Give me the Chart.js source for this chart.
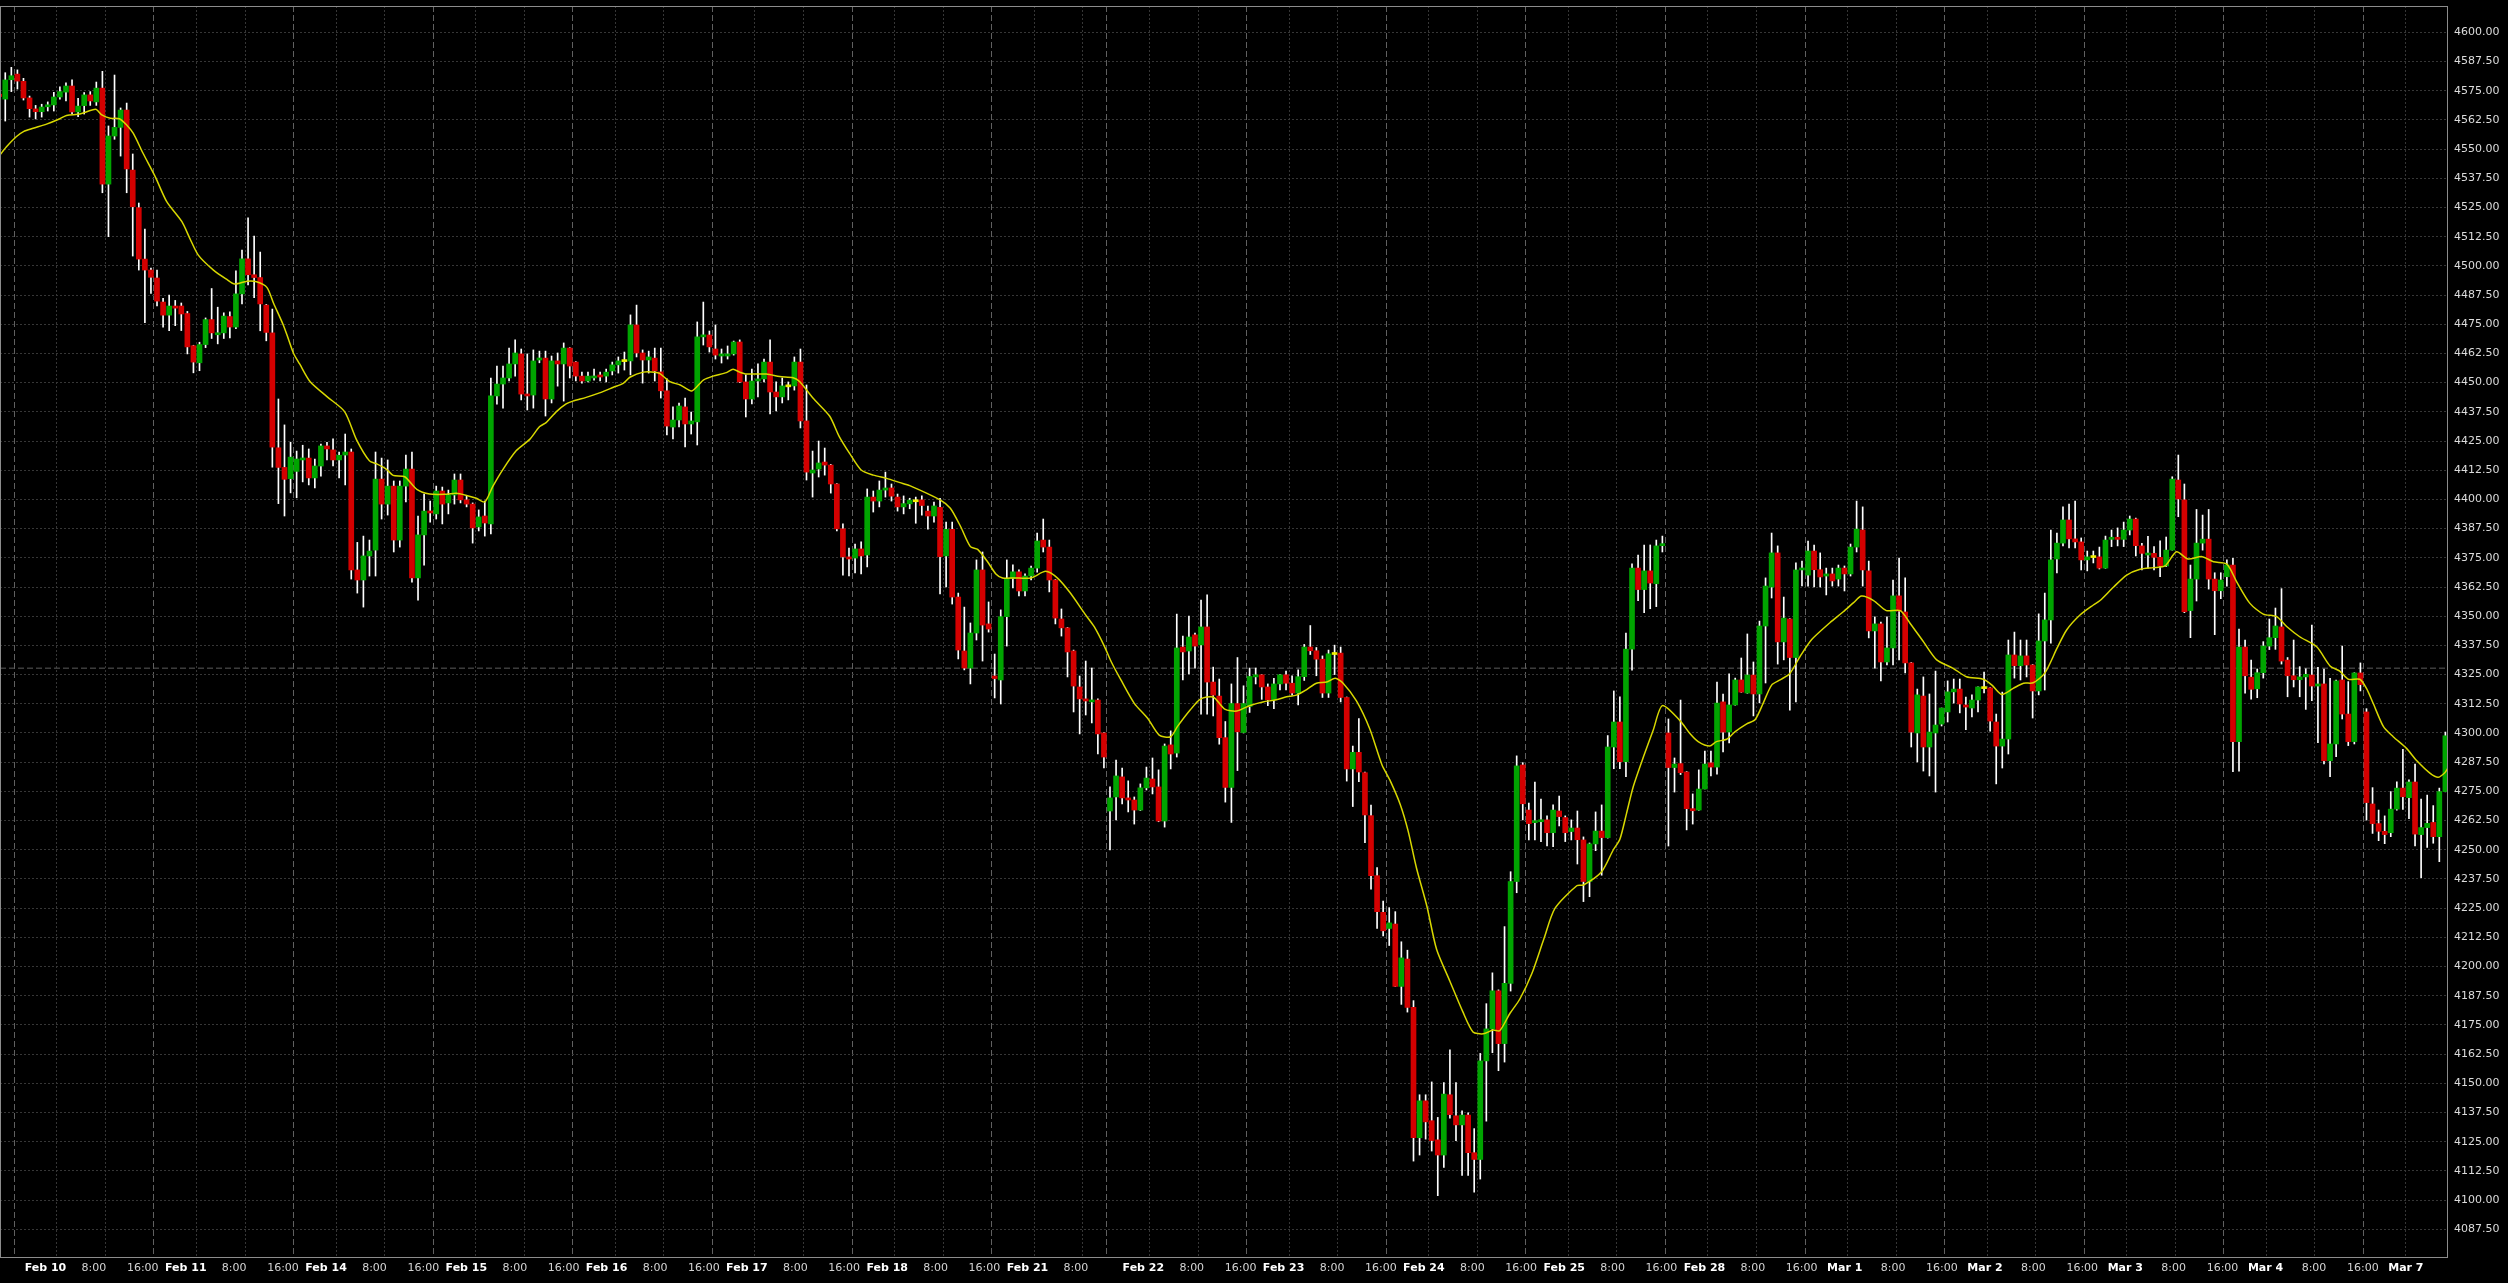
<!DOCTYPE html>
<html>
<head>
<meta charset="utf-8">
<title>Hourly candles Feb 10 - Mar 7</title>
<script src="https://cdn.jsdelivr.net/npm/chart.js@4.4.1/dist/chart.umd.min.js"></script>
<style>
	html, body { margin: 0; padding: 0; background: #000; }
	#wrap { width: 2508px; height: 1283px; }
</style>
</head>
<body>
<div id="wrap"><canvas id="chart" width="2508" height="1283"></canvas></div>
<script>
// hourly bars, index 0 is the bar cut off at the left edge
const opens = [
	4573.5, 4571.4, 4579.7, 4582.1, 4579.0, 4571.9, 4567.2, 4566.0, 4568.1, 4568.9,
	4572.3, 4574.4, 4577.0, 4565.9, 4568.6, 4573.2, 4570.2, 4576.1, 4535.0, 4555.6,
	4559.3, 4566.7, 4541.0, 4524.9, 4502.9, 4498.2, 4494.8, 4484.5, 4478.9, 4482.8,
	4482.8, 4479.6, 4465.8, 4458.5, 4466.3, 4477.0, 4470.5, 4471.3, 4478.3, 4473.8,
	4488.0, 4503.0, 4496.2, 4495.0, 4483.2, 4471.3, 4422.1, 4413.7, 4408.9, 4412.0,
	4416.9, 4417.7, 4409.2, 4414.3, 4422.9, 4421.2, 4416.9, 4419.0, 4420.3, 4369.8,
	4365.5, 4375.8, 4378.3, 4408.7, 4398.0, 4405.7, 4382.6, 4405.7, 4413.0, 4366.4,
	4384.8, 4395.0, 4393.8, 4403.6, 4398.5, 4401.9, 4408.3, 4399.8, 4398.0, 4388.2,
	4392.9, 4389.5, 4444.3, 4449.4, 4452.0, 4458.0, 4462.3, 4445.1, 4444.7, 4459.7,
	4460.5, 4443.0, 4459.3, 4458.0, 4464.8, 4458.8, 4452.8, 4450.7, 4452.0, 4453.3,
	4452.8, 4455.0, 4457.6, 4459.0, 4459.3, 4474.7, 4462.7, 4459.7, 4460.5, 4454.6,
	4446.5, 4431.0, 4434.0, 4439.6, 4432.3, 4433.2, 4469.6, 4470.4, 4464.4, 4461.4,
	4461.4, 4462.3, 4467.4, 4450.3, 4443.0, 4450.7, 4451.6, 4458.8, 4446.0, 4443.9,
	4448.2, 4448.6, 4458.8, 4433.6, 4411.3, 4413.0, 4416.0, 4414.7, 4406.6, 4387.4,
	4375.4, 4374.9, 4378.8, 4376.2, 4401.0, 4399.3, 4404.0, 4404.9, 4401.0, 4396.8,
	4398.1, 4399.0, 4399.8, 4395.0, 4392.9, 4396.6, 4375.8, 4387.2, 4358.2, 4335.1,
	4327.8, 4342.8, 4369.8, 4346.7, 4324.4, 4322.7, 4349.8, 4366.2, 4369.0, 4360.8,
	4367.2, 4370.6, 4382.6, 4379.6, 4365.5, 4348.8, 4345.0, 4335.1, 4319.7, 4314.6,
	4313.3, 4314.1, 4300.0, 4266.6, 4272.6, 4281.2, 4272.2, 4271.3, 4267.0, 4276.5,
	4280.3, 4276.9, 4262.3, 4294.9, 4291.4, 4336.8, 4335.1, 4342.0, 4337.7, 4345.4,
	4321.8, 4315.8, 4298.0, 4276.7, 4312.6, 4300.2, 4311.3, 4324.0, 4324.9, 4319.7,
	4314.2, 4321.0, 4324.9, 4321.3, 4317.1, 4324.1, 4336.8, 4335.2, 4331.6, 4317.1,
	4333.6, 4334.2, 4315.2, 4284.6, 4291.7, 4283.0, 4264.6, 4238.9, 4223.2, 4216.3,
	4218.2, 4191.5, 4203.2, 4182.5, 4126.7, 4142.5, 4134.0, 4125.8, 4119.3, 4145.1,
	4136.1, 4132.2, 4136.4, 4120.3, 4117.4, 4159.6, 4173.3, 4189.6, 4167.0, 4192.8,
	4236.4, 4286.3, 4267.0, 4261.6, 4262.0, 4262.8, 4257.3, 4266.6, 4263.8, 4257.8,
	4259.3, 4254.2, 4236.4, 4252.5, 4258.0, 4255.2, 4294.0, 4304.7, 4287.7, 4335.9,
	4370.6, 4361.4, 4369.4, 4363.9, 4380.2, 4300.0, 4285.2, 4286.9, 4283.3, 4267.6,
	4267.0, 4276.0, 4287.2, 4285.4, 4313.3, 4300.4, 4312.0, 4322.7, 4317.1, 4324.8,
	4316.7, 4345.8, 4362.5, 4377.1, 4339.0, 4348.8, 4332.3, 4369.8, 4367.6, 4377.9,
	4369.9, 4367.2, 4368.1, 4365.9, 4370.6, 4368.1, 4379.6, 4386.9, 4369.4, 4343.7,
	4346.7, 4330.4, 4336.4, 4358.7, 4351.8, 4330.0, 4300.0, 4315.8, 4294.0, 4300.0,
	4303.8, 4309.0, 4317.6, 4318.8, 4312.0, 4310.7, 4314.1, 4319.0, 4319.3, 4304.7,
	4294.4, 4297.4, 4333.4, 4328.8, 4333.0, 4329.1, 4318.0, 4339.4, 4348.4, 4374.5,
	4381.3, 4391.2, 4383.1, 4381.8, 4374.1, 4375.1, 4375.4, 4370.6, 4382.9, 4383.8,
	4382.9, 4386.9, 4391.6, 4380.1, 4376.2, 4376.9, 4375.2, 4371.5, 4378.3, 4408.3,
	4399.8, 4352.4, 4365.9, 4381.3, 4383.0, 4365.9, 4360.9, 4366.9, 4371.9, 4296.3,
	4336.8, 4323.9, 4318.9, 4325.8, 4337.2, 4340.8, 4345.4, 4331.2, 4324.5, 4322.8,
	4324.0, 4324.8, 4320.1, 4321.0, 4288.1, 4295.3, 4322.7, 4308.1, 4296.3, 4325.7,
	4309.0, 4269.6, 4261.2, 4257.9, 4257.3, 4267.4, 4276.4, 4272.3, 4279.0, 4256.5,
	4259.5, 4261.7, 4255.6, 4274.9
];
const highs = [
	4574.5, 4582.7, 4585.0, 4583.9, 4580.3, 4572.7, 4568.7, 4569.2, 4570.2, 4574.3,
	4576.6, 4578.4, 4579.6, 4571.7, 4574.2, 4574.6, 4578.7, 4583.3, 4559.9, 4581.7,
	4567.6, 4569.7, 4547.9, 4526.9, 4515.8, 4499.1, 4498.2, 4486.1, 4487.5, 4485.2,
	4484.1, 4480.5, 4466.0, 4467.3, 4477.7, 4490.3, 4482.3, 4479.9, 4480.3, 4497.9,
	4506.8, 4520.6, 4512.8, 4505.9, 4483.5, 4481.5, 4443.0, 4431.9, 4424.5, 4420.7,
	4423.2, 4421.6, 4417.3, 4423.7, 4424.4, 4425.9, 4420.3, 4428.0, 4421.6, 4381.6,
	4384.3, 4382.6, 4420.3, 4417.7, 4416.9, 4407.9, 4407.9, 4419.0, 4420.3, 4392.9,
	4402.3, 4399.3, 4405.7, 4405.3, 4404.0, 4410.9, 4410.9, 4401.5, 4398.5, 4395.5,
	4399.3, 4452.0, 4457.1, 4457.1, 4464.8, 4468.3, 4464.4, 4462.3, 4464.0, 4463.5,
	4463.5, 4461.4, 4462.7, 4467.0, 4465.0, 4459.0, 4454.5, 4454.5, 4455.8, 4454.5,
	4455.8, 4458.8, 4461.0, 4463.1, 4479.0, 4483.2, 4464.0, 4463.5, 4464.8, 4464.8,
	4451.6, 4439.6, 4441.3, 4443.4, 4437.4, 4476.0, 4484.5, 4472.1, 4474.7, 4464.4,
	4465.7, 4467.8, 4468.3, 4453.3, 4455.8, 4458.0, 4460.1, 4468.3, 4450.3, 4452.0,
	4450.3, 4461.0, 4464.4, 4449.0, 4420.7, 4425.0, 4422.0, 4415.0, 4406.8, 4389.5,
	4379.2, 4380.9, 4381.8, 4404.5, 4403.6, 4407.9, 4411.7, 4406.6, 4402.3, 4401.5,
	4400.5, 4401.0, 4401.5, 4397.2, 4398.9, 4400.5, 4390.3, 4390.3, 4359.9, 4353.9,
	4347.1, 4374.1, 4377.5, 4356.1, 4333.8, 4352.7, 4374.1, 4372.0, 4369.8, 4368.1,
	4371.5, 4385.6, 4391.6, 4382.6, 4365.7, 4353.1, 4345.2, 4335.5, 4324.4, 4330.8,
	4327.8, 4314.6, 4300.2, 4276.9, 4288.4, 4285.0, 4279.5, 4272.6, 4278.2, 4285.4,
	4289.3, 4284.2, 4295.3, 4300.9, 4350.9, 4341.5, 4350.1, 4342.8, 4356.9, 4359.1,
	4328.2, 4323.1, 4304.9, 4321.0, 4332.3, 4320.2, 4327.8, 4327.8, 4325.0, 4321.0,
	4323.4, 4325.0, 4326.5, 4324.5, 4327.0, 4337.9, 4346.0, 4336.6, 4333.0, 4335.5,
	4337.6, 4336.8, 4315.4, 4294.4, 4306.2, 4283.3, 4269.1, 4242.4, 4228.0, 4225.2,
	4223.5, 4210.6, 4207.0, 4185.4, 4145.1, 4145.1, 4150.6, 4135.4, 4150.3, 4164.3,
	4150.3, 4138.2, 4137.4, 4130.6, 4162.8, 4184.1, 4197.3, 4190.0, 4217.1, 4240.6,
	4290.2, 4287.3, 4270.0, 4279.0, 4271.7, 4264.5, 4269.2, 4273.0, 4264.5, 4262.8,
	4266.6, 4255.5, 4252.9, 4266.2, 4269.2, 4298.9, 4318.0, 4315.5, 4342.8, 4372.4,
	4376.2, 4380.5, 4380.5, 4382.6, 4384.3, 4306.0, 4289.3, 4314.1, 4283.5, 4273.9,
	4284.2, 4292.3, 4292.3, 4321.8, 4316.7, 4325.3, 4323.5, 4332.1, 4342.4, 4330.4,
	4347.9, 4366.4, 4385.6, 4380.1, 4358.2, 4349.0, 4372.8, 4373.6, 4382.2, 4380.5,
	4377.1, 4370.6, 4370.6, 4371.9, 4371.5, 4380.9, 4399.3, 4396.8, 4373.6, 4349.7,
	4347.5, 4349.7, 4365.5, 4374.9, 4366.4, 4330.2, 4318.8, 4324.0, 4316.7, 4326.5,
	4310.7, 4322.3, 4323.1, 4323.1, 4315.4, 4316.3, 4319.8, 4326.1, 4319.4, 4308.1,
	4317.5, 4339.8, 4343.2, 4339.8, 4339.8, 4329.3, 4351.0, 4359.9, 4386.9, 4385.6,
	4396.8, 4398.0, 4399.3, 4383.5, 4377.9, 4377.9, 4379.6, 4384.3, 4386.9, 4387.8,
	4390.3, 4392.9, 4392.0, 4381.2, 4384.2, 4379.8, 4382.3, 4383.9, 4409.7, 4419.0,
	4406.6, 4371.9, 4395.7, 4393.3, 4395.7, 4368.6, 4368.6, 4374.1, 4374.8, 4344.5,
	4339.8, 4331.2, 4327.4, 4339.1, 4348.8, 4353.5, 4361.8, 4332.3, 4339.8, 4328.4,
	4327.5, 4346.2, 4328.1, 4327.4, 4323.4, 4322.7, 4337.2, 4322.0, 4325.8, 4330.0,
	4310.4, 4276.6, 4267.0, 4264.5, 4274.9, 4279.1, 4293.0, 4279.9, 4286.7, 4271.7,
	4273.4, 4268.9, 4276.4, 4300.4
];
const lows = [
	4571.5, 4562.0, 4574.6, 4575.7, 4571.0, 4563.7, 4562.9, 4563.7, 4566.3, 4566.3,
	4571.4, 4570.6, 4565.0, 4563.9, 4565.0, 4568.7, 4568.7, 4531.3, 4512.5, 4554.2,
	4547.0, 4531.3, 4504.2, 4498.2, 4475.7, 4488.2, 4482.9, 4473.7, 4472.3, 4474.4,
	4472.3, 4462.3, 4454.2, 4455.1, 4465.0, 4468.9, 4466.6, 4468.9, 4469.2, 4473.1,
	4483.7, 4491.8, 4486.4, 4472.2, 4467.9, 4413.8, 4398.2, 4392.9, 4402.8, 4400.7,
	4407.5, 4406.2, 4404.9, 4410.0, 4416.9, 4414.3, 4409.2, 4406.2, 4365.9, 4359.9,
	4353.9, 4367.2, 4367.2, 4391.6, 4393.3, 4377.5, 4379.6, 4398.9, 4364.6, 4356.9,
	4371.9, 4390.3, 4391.6, 4389.5, 4393.8, 4398.0, 4398.5, 4396.8, 4381.3, 4386.5,
	4384.3, 4385.2, 4440.8, 4439.1, 4450.7, 4452.8, 4442.6, 4438.3, 4439.1, 4458.5,
	4435.7, 4441.3, 4448.5, 4442.1, 4452.0, 4450.7, 4449.8, 4450.3, 4451.1, 4450.7,
	4450.3, 4453.3, 4454.1, 4455.4, 4453.3, 4461.0, 4449.8, 4454.1, 4450.7, 4443.4,
	4427.6, 4425.9, 4431.0, 4422.5, 4428.0, 4423.3, 4466.1, 4463.1, 4460.1, 4458.4,
	4460.1, 4461.8, 4450.0, 4435.3, 4440.9, 4443.9, 4450.3, 4436.6, 4437.9, 4441.3,
	4442.6, 4446.8, 4430.6, 4408.3, 4401.0, 4409.6, 4410.4, 4402.7, 4386.5, 4367.6,
	4367.2, 4368.5, 4368.1, 4371.1, 4394.6, 4396.8, 4401.0, 4399.3, 4395.0, 4393.8,
	4396.0, 4389.8, 4393.3, 4387.3, 4390.3, 4359.5, 4362.5, 4355.2, 4331.7, 4327.0,
	4321.0, 4339.8, 4330.8, 4343.2, 4315.0, 4312.4, 4337.2, 4362.1, 4358.7, 4358.7,
	4365.5, 4368.9, 4377.5, 4360.4, 4346.7, 4341.5, 4324.0, 4309.0, 4299.6, 4307.7,
	4304.3, 4291.0, 4285.0, 4249.9, 4262.8, 4269.6, 4266.2, 4261.0, 4266.8, 4275.6,
	4273.9, 4262.0, 4259.7, 4284.6, 4289.7, 4322.7, 4325.3, 4327.8, 4308.1, 4308.1,
	4307.3, 4295.2, 4270.4, 4261.7, 4283.9, 4300.0, 4308.8, 4321.0, 4314.4, 4311.7,
	4310.4, 4318.4, 4318.4, 4316.2, 4312.0, 4322.5, 4333.6, 4324.5, 4315.2, 4315.2,
	4325.0, 4313.3, 4279.4, 4268.5, 4279.1, 4253.0, 4233.1, 4216.3, 4213.1, 4209.0,
	4191.4, 4183.8, 4180.5, 4116.7, 4119.3, 4126.1, 4121.0, 4101.9, 4114.0, 4135.1,
	4125.4, 4110.6, 4110.6, 4103.4, 4109.0, 4133.8, 4163.1, 4155.4, 4159.1, 4189.5,
	4231.6, 4262.8, 4254.2, 4254.2, 4253.5, 4251.6, 4251.3, 4260.2, 4253.5, 4254.2,
	4243.9, 4227.8, 4229.9, 4249.6, 4239.1, 4255.0, 4284.7, 4284.7, 4281.3, 4326.9,
	4356.7, 4351.5, 4353.2, 4354.1, 4377.5, 4251.6, 4274.7, 4282.2, 4258.5, 4261.0,
	4266.9, 4276.0, 4281.6, 4282.4, 4291.9, 4295.7, 4311.9, 4317.4, 4317.0, 4307.3,
	4312.9, 4321.4, 4357.8, 4329.5, 4331.3, 4309.8, 4313.3, 4363.0, 4362.9, 4362.5,
	4362.5, 4359.1, 4362.9, 4362.9, 4360.8, 4367.2, 4377.5, 4362.9, 4340.7, 4327.8,
	4322.3, 4329.1, 4329.1, 4331.3, 4325.7, 4294.0, 4287.6, 4283.7, 4281.6, 4274.7,
	4303.0, 4304.7, 4312.8, 4308.6, 4301.4, 4306.9, 4309.0, 4317.1, 4300.8, 4278.2,
	4285.0, 4291.0, 4323.5, 4322.7, 4324.0, 4306.4, 4316.3, 4318.4, 4338.5, 4368.5,
	4380.1, 4379.2, 4379.2, 4369.8, 4369.4, 4372.8, 4370.2, 4370.5, 4379.8, 4380.1,
	4379.8, 4384.8, 4375.8, 4369.8, 4370.6, 4369.8, 4366.9, 4371.2, 4378.3, 4392.6,
	4351.5, 4340.8, 4356.5, 4378.3, 4361.6, 4342.1, 4357.5, 4362.9, 4283.4, 4283.7,
	4317.0, 4314.5, 4315.1, 4323.5, 4335.7, 4335.8, 4329.5, 4315.5, 4319.7, 4315.5,
	4310.1, 4313.8, 4295.8, 4286.7, 4281.3, 4289.9, 4306.0, 4294.6, 4295.3, 4318.0,
	4262.7, 4257.0, 4253.9, 4252.6, 4255.6, 4267.0, 4267.3, 4263.3, 4251.6, 4238.0,
	4251.0, 4252.8, 4244.9, 4274.8
];
const closes = [
	4572.5, 4579.6, 4581.4, 4579.1, 4571.9, 4567.3, 4566.0, 4568.0, 4568.9, 4572.3,
	4574.6, 4577.0, 4565.9, 4568.4, 4573.2, 4570.6, 4576.1, 4535.0, 4555.6, 4559.3,
	4566.7, 4541.5, 4525.3, 4502.9, 4498.2, 4495.1, 4484.9, 4478.9, 4482.8, 4481.9,
	4479.4, 4465.3, 4458.8, 4466.3, 4477.0, 4471.3, 4471.3, 4478.5, 4473.8, 4488.0,
	4503.0, 4496.2, 4495.0, 4483.7, 4471.5, 4422.4, 4413.7, 4408.6, 4418.1, 4417.3,
	4417.7, 4409.2, 4414.3, 4422.9, 4421.6, 4416.9, 4418.9, 4420.3, 4369.8, 4365.5,
	4375.8, 4377.9, 4408.7, 4398.0, 4405.7, 4382.6, 4405.7, 4413.0, 4366.4, 4384.8,
	4395.0, 4394.2, 4403.6, 4398.0, 4401.9, 4408.3, 4399.8, 4398.0, 4387.8, 4392.5,
	4389.9, 4444.3, 4449.4, 4452.0, 4458.0, 4462.7, 4445.1, 4444.3, 4459.3, 4460.5,
	4443.0, 4459.3, 4458.0, 4464.8, 4457.1, 4452.8, 4450.7, 4452.8, 4452.8, 4452.4,
	4454.5, 4457.6, 4459.3, 4459.0, 4474.7, 4462.7, 4459.7, 4461.0, 4455.0, 4446.5,
	4431.4, 4434.0, 4440.0, 4432.3, 4433.6, 4469.6, 4470.4, 4465.3, 4461.8, 4462.3,
	4462.3, 4467.4, 4450.3, 4443.0, 4450.7, 4451.6, 4458.8, 4446.0, 4443.9, 4448.6,
	4448.2, 4458.8, 4433.6, 4411.7, 4412.6, 4415.6, 4414.7, 4406.6, 4387.4, 4375.4,
	4374.5, 4378.8, 4375.8, 4401.0, 4399.3, 4404.0, 4404.9, 4401.4, 4396.8, 4398.2,
	4399.7, 4399.0, 4397.4, 4392.9, 4397.2, 4375.5, 4387.2, 4358.2, 4335.5, 4327.8,
	4342.8, 4369.8, 4346.2, 4344.5, 4323.3, 4349.8, 4366.2, 4369.0, 4360.8, 4367.2,
	4370.6, 4382.2, 4379.6, 4365.5, 4349.2, 4345.0, 4334.7, 4320.1, 4314.6, 4313.7,
	4314.1, 4299.6, 4289.7, 4272.2, 4281.6, 4272.2, 4271.3, 4267.0, 4276.5, 4280.7,
	4276.9, 4262.3, 4294.4, 4291.0, 4336.4, 4334.7, 4341.1, 4337.2, 4345.4, 4321.8,
	4316.2, 4298.0, 4276.7, 4312.6, 4300.5, 4312.6, 4324.2, 4324.9, 4319.7, 4314.2,
	4321.0, 4324.9, 4321.3, 4317.1, 4324.1, 4336.8, 4335.2, 4331.6, 4317.1, 4333.9,
	4333.6, 4315.2, 4284.6, 4291.7, 4283.3, 4264.9, 4238.9, 4223.5, 4215.3, 4218.7,
	4191.5, 4203.7, 4182.5, 4126.7, 4142.5, 4133.5, 4125.5, 4119.3, 4145.4, 4136.6,
	4132.2, 4136.4, 4120.3, 4117.4, 4159.6, 4173.3, 4189.6, 4167.0, 4192.8, 4236.4,
	4285.9, 4269.7, 4261.2, 4262.3, 4262.8, 4257.3, 4267.0, 4264.2, 4257.3, 4259.3,
	4254.3, 4236.4, 4252.5, 4258.0, 4255.2, 4294.0, 4304.7, 4287.7, 4335.9, 4370.6,
	4361.4, 4369.4, 4364.2, 4380.1, 4380.9, 4285.2, 4286.7, 4283.0, 4267.6, 4266.7,
	4276.0, 4286.7, 4285.4, 4312.8, 4300.4, 4312.0, 4322.7, 4317.5, 4324.8, 4316.7,
	4345.8, 4362.9, 4377.1, 4339.0, 4349.2, 4332.3, 4369.8, 4370.6, 4377.9, 4369.9,
	4366.8, 4368.1, 4365.1, 4370.6, 4368.1, 4379.6, 4387.3, 4369.8, 4343.7, 4346.7,
	4330.4, 4336.4, 4358.7, 4352.2, 4330.0, 4300.4, 4316.3, 4294.0, 4300.4, 4303.4,
	4310.7, 4317.6, 4318.8, 4312.4, 4311.1, 4314.1, 4319.7, 4319.0, 4305.1, 4294.4,
	4297.4, 4333.4, 4328.8, 4333.0, 4329.1, 4318.0, 4339.4, 4348.4, 4374.1, 4381.3,
	4391.2, 4383.1, 4381.8, 4374.1, 4375.4, 4375.1, 4370.6, 4382.6, 4383.8, 4382.9,
	4386.9, 4391.6, 4380.2, 4376.9, 4376.9, 4375.2, 4371.5, 4378.3, 4408.7, 4400.2,
	4351.9, 4365.9, 4381.3, 4383.0, 4365.9, 4360.9, 4365.5, 4371.9, 4296.3, 4336.8,
	4324.5, 4318.7, 4325.8, 4337.2, 4340.8, 4345.8, 4330.8, 4324.5, 4322.8, 4324.0,
	4325.1, 4320.1, 4321.0, 4288.1, 4295.3, 4322.3, 4308.1, 4296.3, 4325.7, 4320.7,
	4270.2, 4261.2, 4257.9, 4256.5, 4267.4, 4276.4, 4272.7, 4279.0, 4256.7, 4259.5,
	4261.3, 4255.6, 4274.9, 4298.8
];

// yellow moving average (bar index, price)
const maIdx = [
	0.13, 1.2, 2.8, 4, 5.6, 7.8, 10, 11.1, 13.3, 15.9,
	16.9, 18.3, 19.8, 21, 22.1, 23.7, 25.7, 27.6, 30.1, 31.4,
	32.8, 35.3, 37.5, 38.8, 40.8, 42.4, 44.1, 45.2, 46.8, 47.6,
	48.5, 49.5, 51.2, 54, 56.9, 58.9, 61, 62.2, 63.8, 64.9,
	66.8, 68.8, 70.9, 73.7, 75.3, 77, 78.6, 80, 81.3, 83,
	85.2, 87.4, 89, 90.1, 91.8, 93.4, 94.5, 96.7, 98.9, 101.2,
	102.8, 103.9, 106.1, 108, 108.8, 110.5, 112.2, 114.1, 116, 117.6,
	119.8, 120.9, 122, 123.1, 126.4, 128.6, 130.8, 131.9, 134.1, 136.8,
	138.4, 140.1, 142, 144, 146.2, 148.4, 150, 155, 156.7, 158.4,
	160, 161.2, 162.8, 164.2, 165.3, 167.2, 170, 172.4, 174.4, 176.5,
	178.8, 180.4, 182.1, 183.2, 184.8, 187, 189.2, 191.1, 193, 194.1,
	196.2, 197.9, 200, 201.9, 203.9, 206.1, 208.2, 210.4, 212.1, 213.7,
	215.4, 217, 218.7, 220.1, 221.4, 223.6, 225.8, 227.8, 229.1, 230.8,
	232.1, 233.5, 235.2, 236.8, 239, 241.1, 242.8, 244.5, 246.1, 247.2,
	248.9, 250.5, 252.5, 254.5, 256.3, 259.9, 261, 264, 265.9, 267,
	268.1, 269.2, 270.9, 272.5, 274, 276.9, 278.5, 279.9, 281.8, 282.9,
	284.6, 286, 287.9, 289.3, 290.6, 292, 293.4, 295, 296.7, 298.6,
	301.6, 303.8, 305.5, 306.8, 308.8, 310.9, 313.2, 314.8, 317, 319.2,
	321.9, 324.1, 326.9, 328.3, 329.9, 331.8, 333.5, 335.1, 337, 339,
	340.6, 342.8, 345, 346.1, 348.3, 350.5, 352.7, 354.9, 356.8, 358.7,
	360.6, 362.9, 364.8, 367, 368.6, 370.8, 373, 375.2, 376.9, 379,
	381.8, 384, 385.6, 387, 388.9, 390, 391.1, 392.8, 394.4, 396.6,
	398.3, 400.5, 401.8, 402.9, 403.43
];
const maVal = [
	4547.5, 4551.0, 4555.3, 4557.5, 4558.9, 4560.7, 4563.0, 4564.4, 4565.0, 4567.0,
	4564.6, 4563.2, 4563.0, 4560.3, 4556.7, 4548.2, 4538.2, 4527.5, 4518.9, 4511.8,
	4504.6, 4498.2, 4494.2, 4492.2, 4493.4, 4493.2, 4490.8, 4484.0, 4474.7, 4469.0,
	4462.5, 4458.0, 4450.5, 4444.0, 4437.6, 4425.4, 4416.5, 4415.2, 4412.9, 4410.3,
	4409.7, 4404.3, 4402.3, 4402.2, 4402.6, 4401.7, 4400.5, 4398.9, 4405.5, 4412.9,
	4420.9, 4425.7, 4431.1, 4432.9, 4437.6, 4440.9, 4442.1, 4443.7, 4445.6, 4448.0,
	4449.7, 4452.3, 4454.5, 4454.5, 4454.0, 4450.4, 4449.0, 4446.4, 4451.1, 4452.8,
	4454.3, 4455.7, 4454.5, 4453.7, 4453.7, 4452.6, 4452.1, 4450.4, 4443.3, 4435.7,
	4426.9, 4419.7, 4412.6, 4410.4, 4409.0, 4407.2, 4405.9, 4399.8, 4396.2, 4388.3,
	4379.8, 4378.6, 4373.4, 4368.1, 4366.4, 4366.4, 4366.4, 4369.2, 4366.2, 4359.8,
	4351.2, 4345.5, 4337.0, 4330.5, 4322.7, 4312.7, 4306.3, 4299.1, 4298.4, 4302.7,
	4309.8, 4314.5, 4315.4, 4310.2, 4309.4, 4311.8, 4313.3, 4314.2, 4315.5, 4316.2,
	4318.6, 4321.3, 4321.8, 4323.4, 4321.3, 4313.7, 4301.7, 4286.4, 4279.9, 4269.5,
	4258.2, 4242.1, 4225.9, 4207.4, 4193.7, 4180.8, 4172.0, 4171.2, 4172.8, 4172.5,
	4180.0, 4186.0, 4197.0, 4212.0, 4224.9, 4234.6, 4234.9, 4240.6, 4249.9, 4254.5,
	4265.6, 4277.0, 4289.9, 4301.3, 4311.7, 4305.3, 4299.9, 4296.3, 4294.4, 4296.3,
	4297.3, 4300.6, 4303.9, 4305.8, 4312.7, 4320.5, 4322.7, 4325.5, 4332.8, 4340.0,
	4347.2, 4351.9, 4355.8, 4358.6, 4356.7, 4352.4, 4352.4, 4347.0, 4339.1, 4331.3,
	4327.7, 4324.1, 4323.0, 4320.5, 4316.5, 4319.1, 4321.3, 4321.5, 4325.6, 4336.2,
	4344.1, 4350.5, 4354.8, 4356.7, 4362.4, 4367.6, 4370.1, 4370.8, 4371.5, 4377.6,
	4374.5, 4375.5, 4373.3, 4372.3, 4364.8, 4355.5, 4350.9, 4349.8, 4345.5, 4341.2,
	4336.9, 4328.7, 4326.5, 4323.0, 4323.0, 4319.1, 4312.7, 4302.7, 4298.4, 4293.4,
	4288.1, 4282.7, 4281.0, 4283.0, 4285.0
];

// session starts and the 8:00 / 16:00 marks, as bar positions
const dayTickPos = [2.5, 25.5, 48.5, 71.5, 94.5, 117.5, 140.5, 163.5, 182.5,
	205.5, 228.5, 251.5, 274.5, 297.5, 320.5, 343.5, 366.5, 389.5];
const dayTickText = ['Feb 10', 'Feb 11', 'Feb 14', 'Feb 15', 'Feb 16', 'Feb 17', 'Feb 18', 'Feb 21', 'Feb 22',
	'Feb 23', 'Feb 24', 'Feb 25', 'Feb 28', 'Mar 1', 'Mar 2', 'Mar 3', 'Mar 4', 'Mar 7'];
const hourTickPos = [9.5, 17.5, 32.5, 40.5, 55.5, 63.5, 78.5, 86.5, 101.5, 109.5,
	124.5, 132.5, 147.5, 155.5, 170.5, 178.5, 189.5, 197.5, 212.5, 220.5,
	235.5, 243.5, 258.5, 266.5, 281.5, 289.5, 304.5, 312.5, 327.5, 335.5,
	350.5, 358.5, 373.5, 381.5, 396.5];
const hourTickText = ['8:00', '16:00'];
// marks whose label the reference leaves out (crowded or past the edge)
const unlabelledPos = [178.5, 396.5];

const yTicks = [4087.5, 4100, 4112.5, 4125, 4137.5, 4150, 4162.5, 4175, 4187.5, 4200,
	4212.5, 4225, 4237.5, 4250, 4262.5, 4275, 4287.5, 4300, 4312.5, 4325,
	4337.5, 4350, 4362.5, 4375, 4387.5, 4400, 4412.5, 4425, 4437.5, 4450,
	4462.5, 4475, 4487.5, 4500, 4512.5, 4525, 4537.5, 4550, 4562.5, 4575,
	4587.5, 4600];

const markerLevel = 4327.75;

const X_MIN = 0.132, X_MAX = 403.43;
const GREEN = '#00a400', RED = '#d40000', DOJI = '#f0f000';

Chart.defaults.font.family = '"DejaVu Sans", sans-serif';

function isDay(v) {
	return dayTickPos.indexOf(v) !== -1;
}

function tickIsDay(ctx) {
	return !!(ctx && ctx.tick && isDay(ctx.tick.value));
}

function bodyColor(i) {
	if (closes[i] > opens[i]) return GREEN;
	if (closes[i] < opens[i]) return RED;
	return DOJI;
}

const barIdx = opens.map((_, i) => i);

const framePlugin = {
	id: 'frame',
	beforeDraw(chart) {
		const ctx = chart.ctx;
		ctx.save();
		ctx.fillStyle = '#000';
		ctx.fillRect(0, 0, chart.width, chart.height);
		ctx.restore();
	},
	afterDatasetsDraw(chart) {
		const {ctx, chartArea: a} = chart;
		ctx.save();
		ctx.strokeStyle = '#8c8c8c';
		ctx.lineWidth = 1;
		ctx.strokeRect(a.left + 0.5, a.top + 0.5, a.right - a.left - 1, a.bottom - a.top - 1);
		ctx.restore();
	}
};

new Chart(document.getElementById('chart'), {
	type: 'bar',
	data: {
		datasets: [
			{
				type: 'line',
				label: 'level',
				data: [{x: X_MIN, y: markerLevel}, {x: X_MAX, y: markerLevel}],
				borderColor: '#5c5c5c',
				borderDash: [6, 3],
				borderWidth: 1,
				pointRadius: 0,
				order: 5
			},
			{
				label: 'wick',
				data: barIdx.map(i => ({x: i, y: [lows[i], highs[i]]})),
				backgroundColor: '#ffffff',
				grouped: false,
				barPercentage: 1,
				categoryPercentage: 1,
				maxBarThickness: 1,
				order: 3
			},
			{
				label: 'body',
				data: barIdx.map(i => ({x: i, y: [opens[i], closes[i]]})),
				backgroundColor: ctx => bodyColor(ctx.dataIndex),
				grouped: false,
				barPercentage: 1,
				categoryPercentage: 1,
				maxBarThickness: 5,
				minBarLength: 2,
				order: 2
			},
			{
				type: 'line',
				label: 'MA',
				data: maIdx.map((x, k) => ({x: x, y: maVal[k]})),
				borderColor: '#d8d800',
				borderWidth: 1.5,
				pointRadius: 0,
				tension: 0.25,
				order: 1
			}
		]
	},
	options: {
		responsive: false,
		animation: false,
		devicePixelRatio: 1,
		layout: { padding: { top: 6, left: 0, right: 0, bottom: 0 } },
		plugins: {
			legend: { display: false },
			tooltip: { enabled: false }
		},
		scales: {
			x: {
				type: 'linear',
				position: 'bottom',
				offset: false,
				min: X_MIN,
				max: X_MAX,
				afterBuildTicks: axis => {
					axis.ticks = dayTickPos.concat(hourTickPos).sort((a, b) => a - b).map(v => ({value: v}));
				},
				ticks: { display: false },
				grid: {
					offset: false,
					color: ctx => tickIsDay(ctx) ? '#606060' : '#363636',
					lineWidth: 1,
					drawTicks: false
				},
				border: {
					display: false,
					dash: ctx => tickIsDay(ctx) ? [6, 3] : [2, 2]
				},
				afterFit: axis => { axis.height = 0; }
			},
			xl: {
				type: 'linear',
				position: 'bottom',
				offset: false,
				min: -5.902,
				max: 395.47,
				afterBuildTicks: axis => {
					axis.ticks = dayTickPos.concat(hourTickPos)
						.filter(v => unlabelledPos.indexOf(v) === -1)
						.sort((a, b) => a - b)
						.map(v => ({value: v}));
				},
				grid: { display: false, drawTicks: false, offset: false },
				border: { display: false },
				ticks: {
					autoSkip: false,
					maxRotation: 0,
					minRotation: 0,
					padding: 4,
					callback: function(value) {
						const d = dayTickPos.indexOf(value);
						if (d !== -1) return dayTickText[d] + '   ';
						return hourTickText[hourTickPos.indexOf(value) % 2];
					},
					color: ctx => tickIsDay(ctx) ? '#ffffff' : '#d4d4d4',
					font: ctx => tickIsDay(ctx)
						? { size: 11, weight: 'bold' }
						: { size: 11 }
				},
				afterFit: axis => { axis.height = 25; }
			},
			y: {
				position: 'right',
				min: 4075.21,
				max: 4611.26,
				afterBuildTicks: axis => {
					axis.ticks = yTicks.map(v => ({value: v}));
				},
				grid: {
					color: '#363636',
					lineWidth: 1,
					drawTicks: true,
					tickLength: 6,
					tickColor: 'rgba(0,0,0,0)'
				},
				border: { display: false, dash: [2, 2] },
				ticks: {
					autoSkip: false,
					padding: 0,
					color: '#dcdcdc',
					font: { size: 11, lineHeight: 1 },
					callback: v => Number(v).toFixed(2)
				},
				afterFit: axis => { axis.width = 60; }
			}
		}
	},
	plugins: [framePlugin]
});
</script>
</body>
</html>
